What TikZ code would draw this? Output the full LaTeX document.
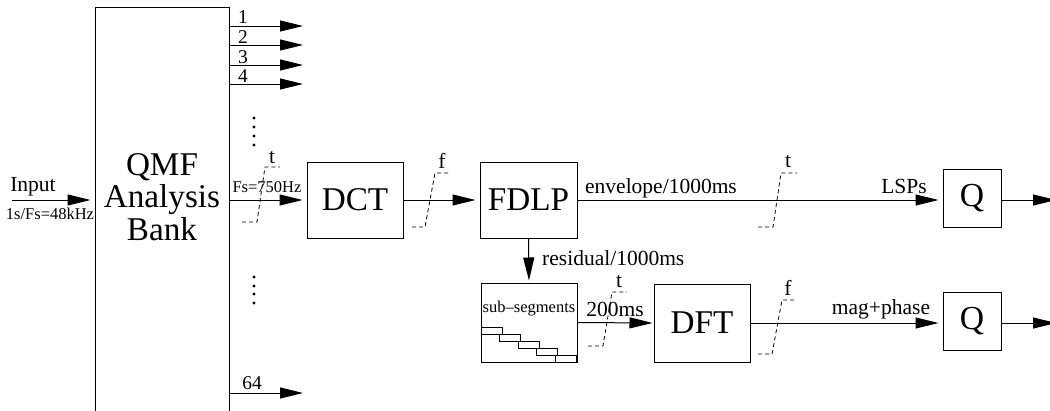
\documentclass[tikz,border=0pt]{standalone}
\usepackage{fontspec}
\setmainfont{Liberation Serif}
\usepackage{graphicx}
\usetikzlibrary{arrows.meta}
\newcommand\fbase{\fontsize{20}{18.15}\selectfont}
\newcommand\bigtxt[1]{\scalebox{1.66}{\fbase #1}}
\newcommand\qtxt[1]{\scalebox{1.68}{\fbase #1}}
\newcommand\flab{\fontsize{21.5}{24}\selectfont}
\newcommand\fdig{\fontsize{19.5}{22}\selectfont}
\newcommand\fsml{\fontsize{16.5}{18}\selectfont}
\begin{document}
\begin{tikzpicture}[x=1pt,y=-1pt,
  box/.style={draw, line width=1pt, inner sep=0pt, align=center},
  arr/.style={-{Triangle[length=23pt,width=11pt]}, line width=1pt},
  sig/.style={dash pattern=on 4pt off 3pt, line width=0.8pt},
  lbl/.style={inner sep=0pt, font=\flab},
  dig/.style={inner sep=0pt, font=\fdig},
  sml/.style={inner sep=0pt, font=\fsml},
  dot/.style={fill=black}]
\useasboundingbox (0,0) rectangle (1050,410);
\clip (0,0) rectangle (1050,410);

% blocks
\node[box, minimum width=134pt, minimum height=430pt] (qmf) at (162,222) {};
\node[inner sep=0pt] (qmft) at (162,201.5) {\bigtxt{\begin{tabular}{@{}c@{}}QMF\\Analysis\\Bank\end{tabular}}};
\node[box, minimum width=96pt, minimum height=76pt] (dct) at (355,200) {\bigtxt{DCT}};
\node[box, minimum width=97pt, minimum height=76pt] (fdlp) at (528.5,200) {\bigtxt{FDLP}};
\node[box, minimum width=58pt, minimum height=58pt] (q1) at (972,198.5) {\qtxt{Q}};
\node[box, minimum width=96pt, minimum height=79pt] (sub) at (529,322.5) {};
\node[box, minimum width=96pt, minimum height=78pt] (dft) at (702,323) {\bigtxt{DFT}};
\node[box, minimum width=58pt, minimum height=58pt] (q2) at (972,321) {\qtxt{Q}};

% coordinates
\coordinate (inp) at (12,200);
\coordinate (e1) at (303,26);
\coordinate (e2) at (303,45);
\coordinate (e3) at (303,65);
\coordinate (e4) at (303,84);
\coordinate (e64) at (303,393);
\coordinate (out1) at (1056,200);
\coordinate (out2) at (1056,323);

% connectors
\draw[arr, shorten >=4pt] (inp) -- (qmf.west |- inp);
\draw[arr] (qmf.east |- e1) -- (e1);
\draw[arr] (qmf.east |- e2) -- (e2);
\draw[arr] (qmf.east |- e3) -- (e3);
\draw[arr] (qmf.east |- e4) -- (e4);
\draw[arr] (qmf.east |- e64) -- (e64);
\draw[arr, shorten >=4pt] (qmf.east |- dct.west) -- (dct.west);
\draw[arr, shorten >=4pt] (dct.east) -- (fdlp.west);
\draw[arr, shorten >=4pt] (fdlp.east) -- (fdlp.east -| q1.west);
\draw[arr] (q1.east |- out1) -- (out1);
\draw[arr, shorten >=2pt] (fdlp.south) -- (sub.north);
\draw[arr, shorten >=1pt] (sub.east) -- (dft.west);
\draw[arr, shorten >=4pt] (dft.east) -- (dft.east -| q2.west);
\draw[arr] (q2.east |- out2) -- (out2);

% channel labels
\node[dig, anchor=base] (l1) at (243,23) {1};
\node[dig, anchor=base] (l2) at (243,43) {2};
\node[dig, anchor=base] (l3) at (243,63) {3};
\node[dig, anchor=base] (l4) at (243,82) {4};
\node[dig, anchor=base] (l64) at (252,389) {64};

% dots
\foreach \yy in {118,127,136,145,277,286,294,303}
  \fill[dot] (254,\yy) circle (1.6pt);

% text labels
\node[lbl, anchor=base] (tin) at (33,191) {Input};
\node[sml] (tfs) at (50,214) {1s/Fs=48kHz};
\node[sml, anchor=base] (tfs2) at (267,192) {Fs=750Hz};
\node[lbl, anchor=base] (tenv) at (661,193) {envelope/1000ms};
\node[lbl, anchor=base] (tlsp) at (904,193) {LSPs};
\node[lbl, anchor=base west] (tres) at (542,265) {residual/1000ms};
\node[sml, anchor=base] (tsub) at (529,312) {sub--segments};
\node[lbl, anchor=base] (t200) at (615,316) {200ms};
\node[lbl, anchor=base] (tmag) at (881,314) {mag+phase};

% signal sketches
\draw[sig] (242,222) -- (257,222) -- (265,167) -- (280,167);
\node[lbl] (s1) at (272,158) {t};
\draw[sig] (412,227) -- (425,227) -- (435,173) -- (450,173);
\node[lbl] (s2) at (442,161) {f};
\draw[sig] (758,227) -- (773,227) -- (781,173) -- (797,173);
\node[lbl] (s3) at (788,162) {t};
\draw[sig] (588,346) -- (603,346) -- (612,292) -- (627,292);
\node[lbl] (s4) at (619,282) {t};
\draw[sig] (758,354) -- (772,354) -- (782,300) -- (797,300);
\node[lbl] (s5) at (788,288) {f};

% staircase of sub-segments
\foreach \i in {0,...,4}
  \draw[line width=0.8pt] ({481+18.5*\i},{327+7*\i}) rectangle ++(21,7);
\end{tikzpicture}
\end{document}
